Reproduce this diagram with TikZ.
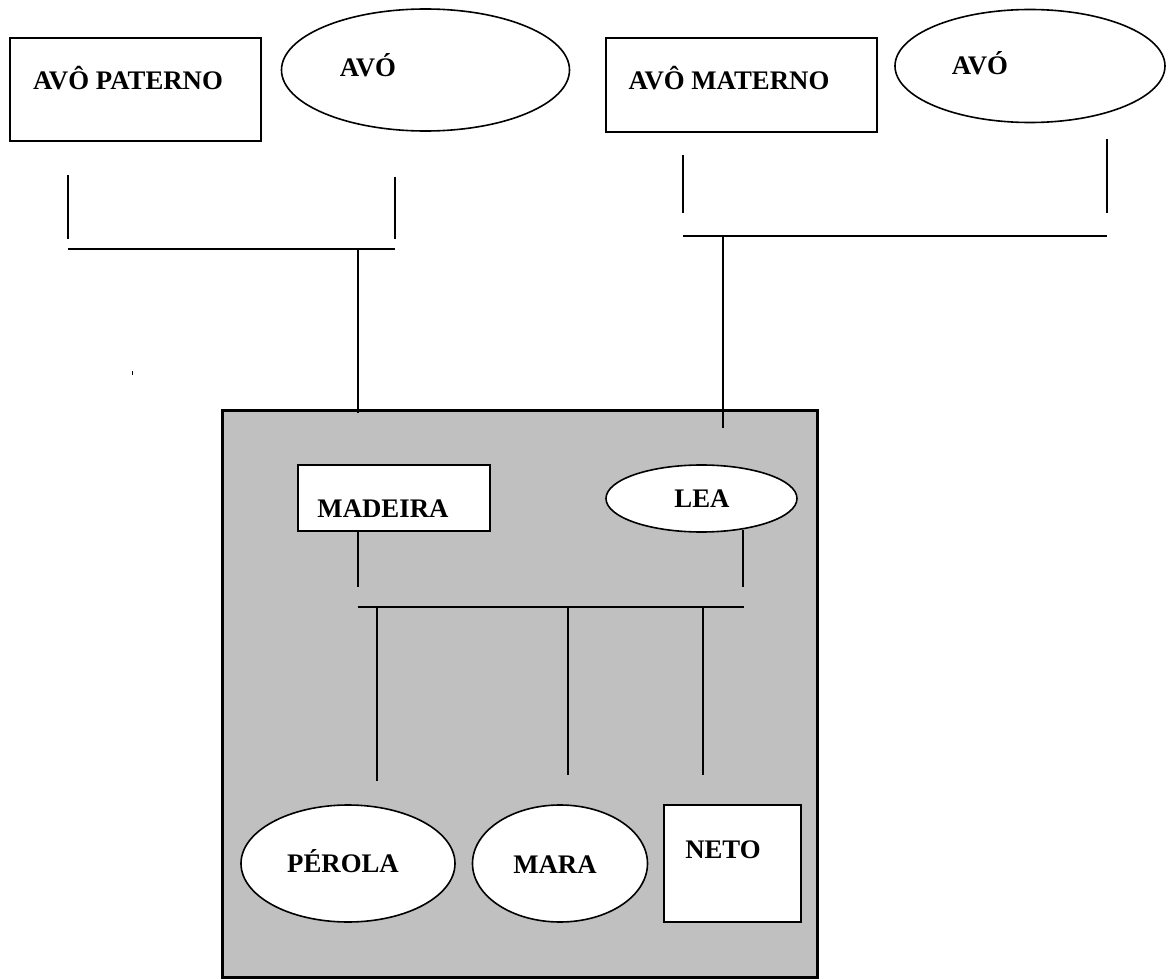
\documentclass[tikz,border=0pt]{standalone}
\usepackage{fontspec}
\setmainfont{Liberation Serif}
\usetikzlibrary{shapes.geometric}
\definecolor{panelgray}{RGB}{192,192,192}
\begin{document}
\begin{tikzpicture}[x=0.5pt,y=-0.5pt,
  sz/.style 2 args={minimum width=#1*0.5pt, minimum height=#2*0.5pt},
  boxperson/.style={draw=black, line width=1pt, fill=white, rectangle, inner sep=0pt},
  ovalperson/.style={draw=black, line width=0.8pt, fill=white, ellipse, inner sep=0pt},
  panel/.style={draw=black, line width=1.5pt, fill=panelgray, rectangle, inner sep=0pt},
  personlabel/.style={font=\bfseries\fontsize{13.4}{15}\selectfont, anchor=base, inner sep=0pt},
  link/.style={draw=black, line width=1pt}]
\useasboundingbox (0,0) rectangle (1169,979);

% grandparents, father's side
\node[boxperson, sz={251}{103}] (avoP) at (135,89.5) {};
\node[personlabel] (avoPt) at (128,90) {AVÔ PATERNO};
\node[ovalperson, sz={288}{122}] (avoPw) at (425.5,70) {};
\node[personlabel] (avoPwt) at (368,76.7) {AVÓ};

% grandparents, mother's side
\node[boxperson, sz={271}{94}] (avoM) at (741.5,85) {};
\node[personlabel] (avoMt) at (729,89.3) {AVÔ MATERNO};
\node[ovalperson, sz={270}{113}] (avoMw) at (1030,66) {};
\node[personlabel] (avoMwt) at (980,75) {AVÓ};

% family panel
\node[panel, sz={595}{567}] (fam) at (519.5,693.5) {};

% parents
\node[boxperson, sz={192}{66}] (madeira) at (394,498) {};
\node[personlabel] (madeirat) at (383,517) {MADEIRA};
\node[ovalperson, sz={191}{67}] (lea) at (701.5,498.5) {};
\node[personlabel] (leat) at (702,507.7) {LEA};

% children
\node[ovalperson, sz={214}{117}] (perola) at (348,863.5) {};
\node[personlabel] (perolat) at (343,872.7) {PÉROLA};
\node[ovalperson, sz={175}{117}] (mara) at (560,863.5) {};
\node[personlabel] (marat) at (555,873) {MARA};
\node[boxperson, sz={137}{117}] (neto) at (732.5,863.5) {};
\node[personlabel] (netot) at (723,858.7) {NETO};

% father's side connectors
\coordinate (pA1) at (67.7,175);  \coordinate (pA2) at (67.7,239);
\coordinate (pB1) at (395,176.7); \coordinate (pB2) at (395,239);
\coordinate (pH1) at (67.7,249.3); \coordinate (pH2) at (395,249.3);
\coordinate (pD1) at (357.7,249.3); \coordinate (pD2) at (357.7,413);
\draw[link] (pA1) -- (pA2);
\draw[link] (pB1) -- (pB2);
\draw[link] (pH1) -- (pH2);
\draw[link] (pD1) -- (pD2);

% mother's side connectors
\coordinate (mA1) at (683,155);   \coordinate (mA2) at (683,213.3);
\coordinate (mB1) at (1107,139.3); \coordinate (mB2) at (1107,213.3);
\coordinate (mH1) at (683,236);   \coordinate (mH2) at (1107,236);
\coordinate (mD1) at (723,236);   \coordinate (mD2) at (723,428);
\draw[link] (mA1) -- (mA2);
\draw[link] (mB1) -- (mB2);
\draw[link] (mH1) -- (mH2);
\draw[link] (mD1) -- (mD2);

% parents to children
\coordinate (cA1) at (357.7,532); \coordinate (cA2) at (357.7,587);
\coordinate (cB1) at (743,530);   \coordinate (cB2) at (743,587);
\coordinate (cH1) at (357.7,607.3); \coordinate (cH2) at (744,607.3);
\coordinate (k1a) at (376.5,607.3); \coordinate (k1b) at (376.5,780.7);
\coordinate (k2a) at (568,607.3);   \coordinate (k2b) at (568,775);
\coordinate (k3a) at (703,607.3);   \coordinate (k3b) at (703,775);
\draw[link] (cA1) -- (cA2);
\draw[link] (cB1) -- (cB2);
\draw[link] (cH1) -- (cH2);
\draw[link] (k1a) -- (k1b);
\draw[link] (k2a) -- (k2b);
\draw[link] (k3a) -- (k3b);

% small stray tick
\coordinate (tk1) at (132.5,371); \coordinate (tk2) at (132.5,374.5);
\draw[line width=0.4pt] (tk1) -- (tk2);
\end{tikzpicture}
\end{document}
